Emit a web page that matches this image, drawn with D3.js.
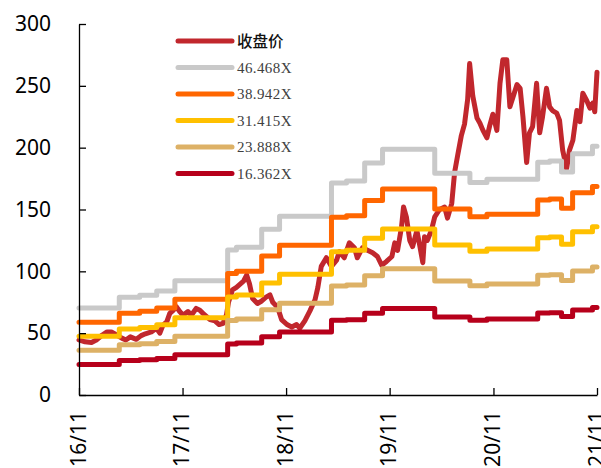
<!DOCTYPE html>
<html><head><meta charset="utf-8">
<script src="https://cdn.jsdelivr.net/npm/d3@7"></script>
<style>body{margin:0;background:#fff} svg{display:block}</style>
</head><body><svg id="c" width="601" height="468"></svg>
<script>
// ---- data ----
const priceDates = ["2016-11-01","2016-11-22","2016-12-15","2017-01-01","2017-01-22","2017-02-08","2017-02-23","2017-03-14","2017-04-01","2017-04-15","2017-05-01","2017-05-22","2017-06-08","2017-06-23","2017-07-14","2017-08-01","2017-08-13","2017-08-24","2017-09-06","2017-09-17","2017-09-29","2017-10-10","2017-10-22","2017-11-03","2017-11-20","2017-12-02","2017-12-19","2018-01-01","2018-01-12","2018-02-06","2018-02-23","2018-03-10","2018-03-24","2018-04-05","2018-04-12","2018-04-26","2018-05-10","2018-05-20","2018-06-04","2018-06-15","2018-06-25","2018-07-06","2018-07-23","2018-08-07","2018-08-21","2018-09-05","2018-09-15","2018-10-02","2018-10-16","2018-11-04","2018-11-21","2018-12-08","2018-12-19","2019-01-06","2019-01-24","2019-02-11","2019-02-21","2019-03-05","2019-03-23","2019-04-10","2019-04-28","2019-05-08","2019-05-25","2019-06-12","2019-06-30","2019-07-10","2019-07-28","2019-08-15","2019-09-02","2019-09-19","2019-10-04","2019-10-21","2019-11-09","2019-11-19","2019-11-29","2019-12-13","2019-12-20","2019-12-30","2020-01-11","2020-01-21","2020-02-05","2020-02-15","2020-02-26","2020-03-03","2020-03-13","2020-03-27","2020-04-08","2020-04-25","2020-05-13","2020-05-23","2020-06-07","2020-06-17","2020-06-28","2020-07-11","2020-07-22","2020-08-02","2020-08-09","2020-08-20","2020-09-04","2020-09-14","2020-09-25","2020-10-09","2020-10-19","2020-10-30","2020-11-13","2020-11-24","2020-12-04","2020-12-18","2020-12-29","2021-01-09","2021-01-23","2021-02-03","2021-02-13","2021-02-26","2021-03-08","2021-03-19","2021-04-02","2021-04-13","2021-04-23","2021-05-07","2021-05-18","2021-05-28","2021-06-12","2021-06-22","2021-07-03","2021-07-17","2021-07-27","2021-08-08","2021-08-22","2021-09-02","2021-09-12","2021-09-26","2021-10-07","2021-10-17","2021-10-24","2021-11-01"];
const priceValues = [44.5,43,42.5,44.5,48.5,51,51,48.5,46,44.5,47,45,48,49.5,51,54,50,56.5,59,66,68.5,71.5,67.5,64.5,67.5,64.5,70,68.5,66,61,60,57,58,65,75,85,87,89,92,97,90,78,74,76,79,81,75,71,61,57,55,57,54,60,68,77,87,104,111,104,109,116,111,123,119,111,119,117,115,112,105,108,112,123,117,136,152,144,125,120,133,121,107,128,125,133,144,150,152,143,155,180,194,210,219,239,268,242,224,220,214,208,218,227,214,252,271,271,233,241,251,248,225,188,212,217,252,212,225,248,233,230,228,222,198,183,198,206,230,221,244,238,232,236,229,261];

const epsDates = ["2016-11-01","2017-03-23","2017-06-03","2017-08-02","2017-10-05","2018-04-09","2018-05-10","2018-08-07","2018-10-09","2019-04-10","2019-06-02","2019-08-05","2019-10-07","2020-04-08","2020-08-10","2020-10-09","2021-04-06","2021-05-18","2021-06-29","2021-08-07","2021-10-16"];
const epsValues = [1.513,1.700,1.737,1.808,1.986,2.522,2.572,2.884,3.110,3.689,3.723,4.037,4.276,3.860,3.700,3.755,4.050,4.070,3.880,4.200,4.330];
const endDate = "2021-11-01";

const multiples = [46.468, 38.942, 31.415, 23.888, 16.362];
const seriesNames = ["收盘价","46.468X","38.942X","31.415X","23.888X","16.362X"];
const seriesColors = ["#C1272D","#C9C9C9","#FF6600","#FFC000","#DDB166","#B7001B"];

const xTickDates = ["2016-11-01","2017-11-01","2018-11-01","2019-11-01","2020-11-01","2021-11-01"];
const xTickLabels = ["16/11","17/11","18/11","19/11","20/11","21/11"];
const yTicks = [0,50,100,150,200,250,300];

// ---- chart ----
const parse = d3.timeParse("%Y-%m-%d");
const svg = d3.select("#c");
const x = d3.scaleTime().domain([parse("2016-11-01"), parse("2021-11-01")]).range([79, 597]);
const y = d3.scaleLinear().domain([0, 300]).range([395, 24]);

const line = d3.line().x(d => x(d.date)).y(d => y(d.value));
const stepLine = d3.line().x(d => x(d.date)).y(d => y(d.value)).curve(d3.curveStepAfter);

const price = priceDates.map((d, i) => ({date: parse(d), value: priceValues[i]}));
const g = svg.append("g");

g.append("path").datum(price).attr("d", line)
  .attr("fill", "none").attr("stroke", seriesColors[0]).attr("stroke-width", 5)
  .attr("stroke-linejoin", "round").attr("stroke-linecap", "round");

multiples.forEach((m, k) => {
  const pts = epsDates.map((d, i) => ({date: parse(d), value: m * epsValues[i]}));
  pts.push({date: parse(endDate), value: m * epsValues[epsValues.length - 1]});
  g.append("path").datum(pts).attr("d", stepLine)
    .attr("fill", "none").attr("stroke", seriesColors[k + 1]).attr("stroke-width", 5)
    .attr("stroke-linejoin", "round").attr("stroke-linecap", "round");
});

// axes
const yAxis = d3.axisLeft(y).tickValues(yTicks).tickSize(-7).tickSizeOuter(0).tickPadding(28);
const ya = svg.append("g").attr("transform", "translate(79,0)").call(yAxis);
ya.selectAll("text").attr("font-family", "'Noto Sans', sans-serif").attr("font-size", 21).attr("fill", "#000");

const xAxis = d3.axisBottom(x).tickValues(xTickDates.map(parse)).tickSize(-7).tickSizeOuter(0)
  .tickFormat((d, i) => xTickLabels[i]);
const xa = svg.append("g").attr("transform", "translate(0,395)").call(xAxis);
xa.selectAll("text")
  .attr("font-family", "'Noto Sans', sans-serif").attr("font-size", 21).attr("fill", "#000")
  .attr("transform", "rotate(-90)").attr("x", -16).attr("y", 0).attr("dy", "0.3em")
  .attr("text-anchor", "end");
svg.selectAll(".domain, .tick line").attr("stroke", "#000").attr("stroke-width", 1.3);

// legend
const lg = svg.append("g");
seriesNames.forEach((name, i) => {
  const yy = 41 + i * 26.5;
  lg.append("line").attr("x1", 178).attr("x2", 232).attr("y1", yy).attr("y2", yy)
    .attr("stroke", seriesColors[i]).attr("stroke-width", 5).attr("stroke-linecap", "round");
  lg.append("text").attr("x", 237).attr("y", yy).attr("dy", "0.36em")
    .attr("font-family", i === 0 ? "'Noto Sans CJK SC', sans-serif" : "'Liberation Serif', serif")
    .attr("font-size", i === 0 ? 15.5 : 15)
    .attr("letter-spacing", i === 0 ? 0 : 0.4)
    .attr("font-weight", i === 0 ? 500 : 400)
    .attr("fill", i === 0 ? "#111" : "#404040")
    .text(name);
});
</script>
</body></html>
